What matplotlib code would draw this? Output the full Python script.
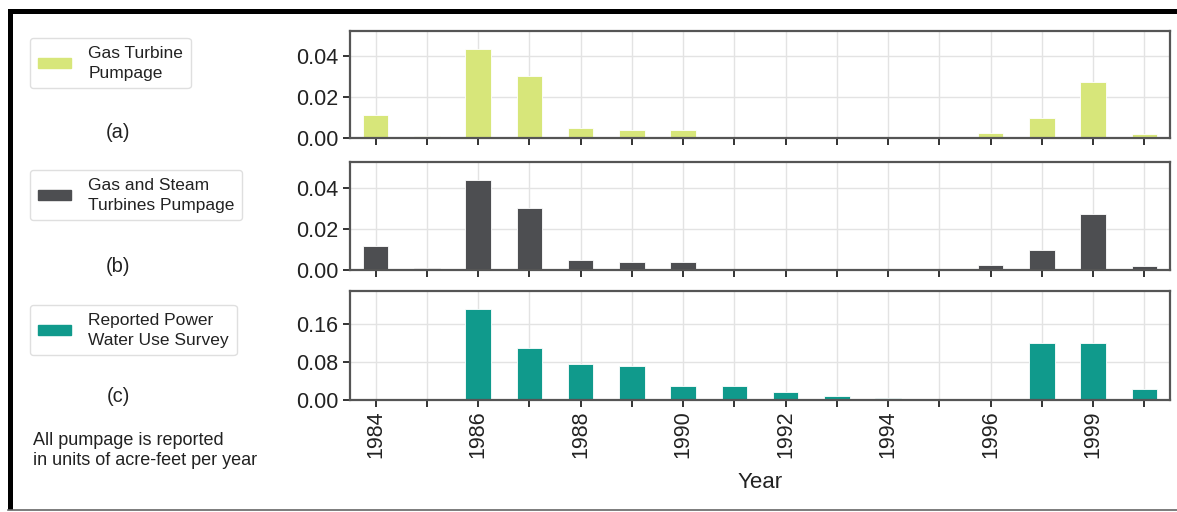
import matplotlib
matplotlib.use("Agg")
import matplotlib.pyplot as plt
from matplotlib.patches import Patch, Rectangle
from matplotlib.lines import Line2D
from matplotlib.ticker import MultipleLocator, FormatStrFormatter

plt.rcParams['font.family'] = ['Liberation Sans', 'DejaVu Sans']

years = [1984, 1985, 1986, 1987, 1988, 1989, 1990, 1991, 1992, 1993,
         1994, 1995, 1996, 1997, 1999, 2000]
gas_turbine = [0.0115, 0.001, 0.0437, 0.0303, 0.0047, 0.0038, 0.0037, 0.0002,
               0.0007, 0.0, 0.0, 0.0003, 0.0025, 0.0097, 0.0274, 0.002]
gas_steam = [0.0115, 0.001, 0.0437, 0.0303, 0.0047, 0.0038, 0.0037, 0.0002,
             0.0007, 0.0, 0.0, 0.0003, 0.0025, 0.0097, 0.0274, 0.002]
reported = [0.0, 0.0, 0.190, 0.109, 0.0757, 0.0714, 0.029, 0.029,
            0.0177, 0.009, 0.005, 0.002, 0.0, 0.120, 0.120, 0.024]

series = [
    ("Gas Turbine\nPumpage", gas_turbine, "#d7e67a", "(a)", 0.02),
    ("Gas and Steam\nTurbines Pumpage", gas_steam, "#4d4e51", "(b)", 0.02),
    ("Reported Power\nWater Use Survey", reported, "#109a8c", "(c)", 0.08),
]

W, H = 1177, 512
fig = plt.figure(figsize=(W / 100, H / 100), dpi=100)

# axes boxes in pixels: (top, bottom)
rows = [(31, 138), (162, 270), (291, 400)]
legend_top = [38, 170, 305]
label_y = [132, 266, 397]
left, right = 350, 1170

x = list(range(len(years)))
for i, (name, vals, col, tag, step) in enumerate(series):
    top, bot = rows[i]
    ax = fig.add_axes([left / W, 1 - bot / H, (right - left) / W, (bot - top) / H])
    ax.bar(x, vals, width=0.5, color=col, edgecolor="white", linewidth=0.6, zorder=2)
    ax.set_xlim(-0.5, len(years) - 0.5)
    ax.set_ylim(0, max(vals) * 1.2)
    ax.yaxis.set_major_locator(MultipleLocator(step))
    ax.yaxis.set_major_formatter(FormatStrFormatter('%.2f'))
    ax.set_xticks(x)
    ax.grid(True, color="#e3e3e3", linewidth=1.0, zorder=0)
    ax.set_axisbelow(True)
    for sp in ax.spines.values():
        sp.set_color("#555555")
        sp.set_linewidth(1.6)
    ax.tick_params(axis='both', direction='out', length=5, width=1.4,
                   color="#333333", labelsize=15.5, labelcolor="#222222")
    ax.tick_params(axis='x', pad=2.5)
    if i < 2:
        ax.set_xticklabels([])
    else:
        labs = [str(y) if k % 2 == 0 else "" for k, y in enumerate(years)]
        ax.set_xticklabels(labs, rotation=90)
        ax.set_xlabel("Year", fontsize=16, color="#222222", labelpad=10)

    handle = Patch(facecolor=col, edgecolor=col)
    leg = fig.legend([handle], [name], loc="upper left",
                     bbox_to_anchor=(30 / W, 1 - legend_top[i] / H),
                     fontsize=12.5, frameon=True, fancybox=True, edgecolor="#d8d8d8",
                     handlelength=1.9, handleheight=0.5, handletextpad=1.0,
                     borderpad=0.45, labelspacing=0.2, borderaxespad=0)
    for t in leg.get_texts():
        t.set_linespacing(1.4)
        t.set_color("#222222")
    fig.text(118 / W, 1 - label_y[i] / H, tag, ha="center", va="center",
             fontsize=14.5, color="#222222")

fig.text(33 / W, 1 - 432 / H,
         "All pumpage is reported\nin units of acre-feet per year",
         ha="left", va="top", fontsize=13, color="#222222", linespacing=1.2)

# screenshot frame
fig.add_artist(Rectangle((8 / W, 1 - 14 / H), 1 - 8 / W, 5 / H,
                         transform=fig.transFigure, color="black", lw=0))
fig.add_artist(Rectangle((8 / W, 1 - 510 / H), 5 / W, 501 / H,
                         transform=fig.transFigure, color="black", lw=0))
fig.add_artist(Line2D([8 / W, 1], [1 - 509.5 / H, 1 - 509.5 / H],
                      transform=fig.transFigure, color="#666666", lw=1.2))

fig.savefig("out.png", dpi=100)
